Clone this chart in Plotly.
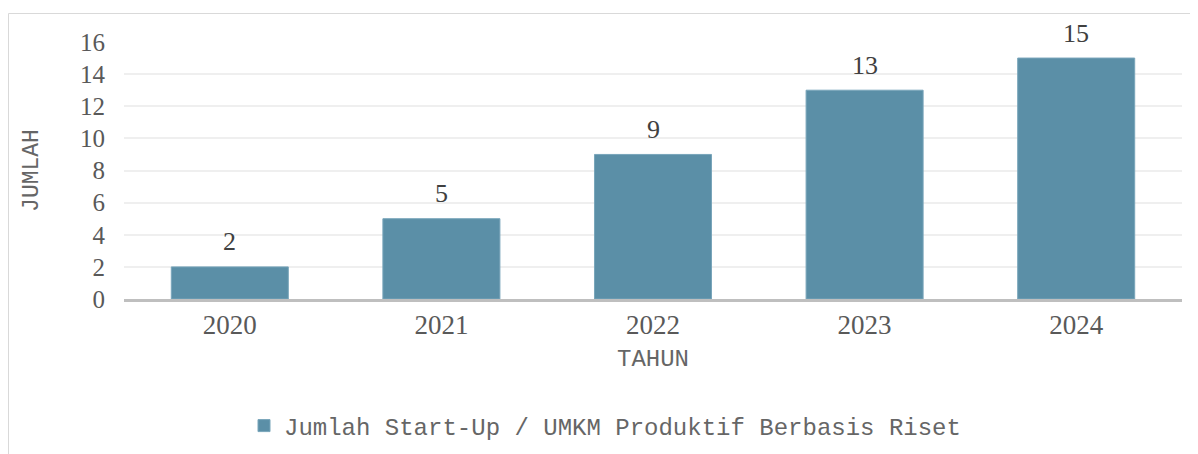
import plotly.graph_objects as go

years = ["2020", "2021", "2022", "2023", "2024"]
values = [2, 5, 9, 13, 15]
series_name = "Jumlah Start-Up / UMKM Produktif Berbasis Riset"
y_ticks = [0, 2, 4, 6, 8, 10, 12, 14, 16]

BAR = "#5b8fa7"
SERIF = "Liberation Serif, Times New Roman, serif"
MONO = "Liberation Mono, Courier New, monospace"

fig = go.Figure()
fig.add_trace(go.Bar(
    x=years, y=values, name=series_name,
    marker=dict(color=BAR, line=dict(color="#79a5ba", width=1)),
    width=0.553,
))

# data labels; on a category axis annotation x is the category index
for i, v in enumerate(values):
    fig.add_annotation(
        x=i, y=v, text=str(v), showarrow=False,
        yanchor="middle", yshift=25,
        font=dict(family=SERIF, size=26, color="#404040"),
    )

# page body has an 8px margin; the figure is shifted by that amount
W, H = 1190, 446
L, R, T, B = 116, 16, 34, 155
pw, ph = W - L - R, H - T - B

def px(xp):
    return (xp - L) / pw

def py(yp):
    return (H - B - yp) / ph

fig.update_layout(
    width=W, height=H,
    margin=dict(l=L, r=R, t=T, b=B, autoexpand=False),
    paper_bgcolor="white", plot_bgcolor="white",
    showlegend=True,
    legend=dict(
        orientation="h", x=px(236), xanchor="left", y=py(418), yanchor="middle",
        font=dict(family=MONO, size=24, color="#666666"),
        itemwidth=30,
    ),
    bargap=0.447,
    xaxis=dict(
        type="category",
        categoryorder="array", categoryarray=years,
        tickfont=dict(family=SERIF, size=27, color="#595959"),
        title=dict(text="TAHUN", font=dict(family=MONO, size=24, color="#666666"), standoff=10),
        showline=True, linecolor="#bfbfbf", linewidth=3,
        ticks="", showgrid=False,
    ),
    yaxis=dict(
        range=[0, 16], tickvals=y_ticks,
        tickfont=dict(family=SERIF, size=25, color="#595959"),
        title=dict(text="JUMLAH", font=dict(family=MONO, size=23, color="#666666"), standoff=34),
        showgrid=True, gridcolor="#efefef", gridwidth=2,
        zeroline=False, showline=False, ticks="",
        ticklabelstandoff=18,
    ),
    shapes=[dict(
        type="rect", xref="paper", yref="paper",
        x0=px(0.5), x1=px(1210), y0=py(5.5), y1=py(480),
        line=dict(color="#d9d9d9", width=1), fillcolor="rgba(0,0,0,0)", layer="below",
    )],
)

fig.write_html("out.html")
